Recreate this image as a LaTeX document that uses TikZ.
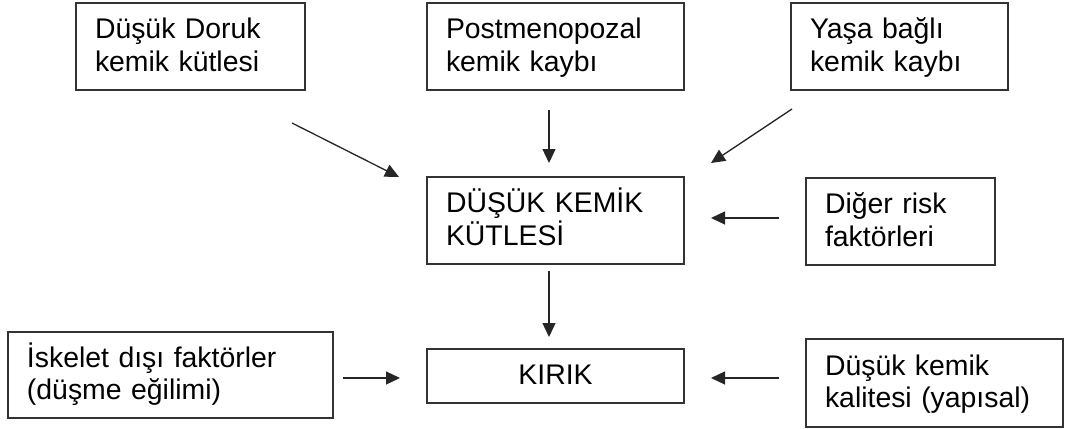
\documentclass[tikz,border=0pt]{standalone}
\usepackage{fontspec}
\setmainfont{Liberation Sans}
\usetikzlibrary{arrows.meta}
\tikzset{
  box/.style={draw=black!80, line width=1.3pt, align=left, inner xsep=19pt, inner ysep=0pt,
    text height=20pt, text depth=3pt, font=\fontsize{28.4}{32.5}\selectfont},
  twoline/.style={box, text depth=35.5pt},
  arr/.style={line width=1.3pt, draw=black!85, -{Triangle[length=14pt,width=13pt]}}
}
\begin{document}
\begin{tikzpicture}[x=1pt, y=-1pt]
  \useasboundingbox (0,0) rectangle (1067,428);

  % top row: contributing causes
  \node[twoline, text width=191pt, minimum height=87pt] (b1) at (190.5,46.5) {Düşük Doruk\\kemik kütlesi};
  \node[twoline, text width=219pt, minimum height=87pt] (b2) at (555.5,46.5) {Postmenopozal\\kemik kaybı};
  \node[twoline, text width=179pt, minimum height=87pt] (b3) at (899.5,46.5) {Yaşa bağlı\\kemik kaybı};

  % middle row
  \node[twoline, text width=219pt, minimum height=87pt] (b4) at (555.5,220.5) {DÜŞÜK KEMİK\\KÜTLESİ};
  \node[twoline, text width=151pt, minimum height=87pt] (b5) at (900.5,221.5) {Diğer risk\\faktörleri};

  % bottom row
  \node[twoline, text width=287pt, minimum height=86pt] (b6) at (170.5,375) {İskelet dışı faktörler\\(düşme eğilimi)};
  \node[box, align=center, text width=219pt, minimum height=54pt] (b7) at (555.5,376) {KIRIK};
  \node[twoline, text width=219pt, minimum height=88pt] (b8) at (934.5,383) {Düşük kemik\\kalitesi (yapısal)};

  % arrow end points
  \coordinate (a1s) at (292,123);  \coordinate (a1e) at (399,177);
  \coordinate (a2s) at (549,110);  \coordinate (a2e) at (549,163);
  \coordinate (a3s) at (792,109);  \coordinate (a3e) at (711,163);
  \coordinate (a4s) at (779,218);  \coordinate (a4e) at (711,218);
  \coordinate (a5s) at (549,271);  \coordinate (a5e) at (549,337);
  \coordinate (a6s) at (343,378);  \coordinate (a6e) at (400,378);
  \coordinate (a7s) at (779,378);  \coordinate (a7e) at (711,378);

  \draw[arr] (a1s) -- (a1e);
  \draw[arr] (a2s) -- (a2e);
  \draw[arr] (a3s) -- (a3e);
  \draw[arr] (a4s) -- (a4e);
  \draw[arr] (a5s) -- (a5e);
  \draw[arr] (a6s) -- (a6e);
  \draw[arr] (a7s) -- (a7e);
\end{tikzpicture}
\end{document}
